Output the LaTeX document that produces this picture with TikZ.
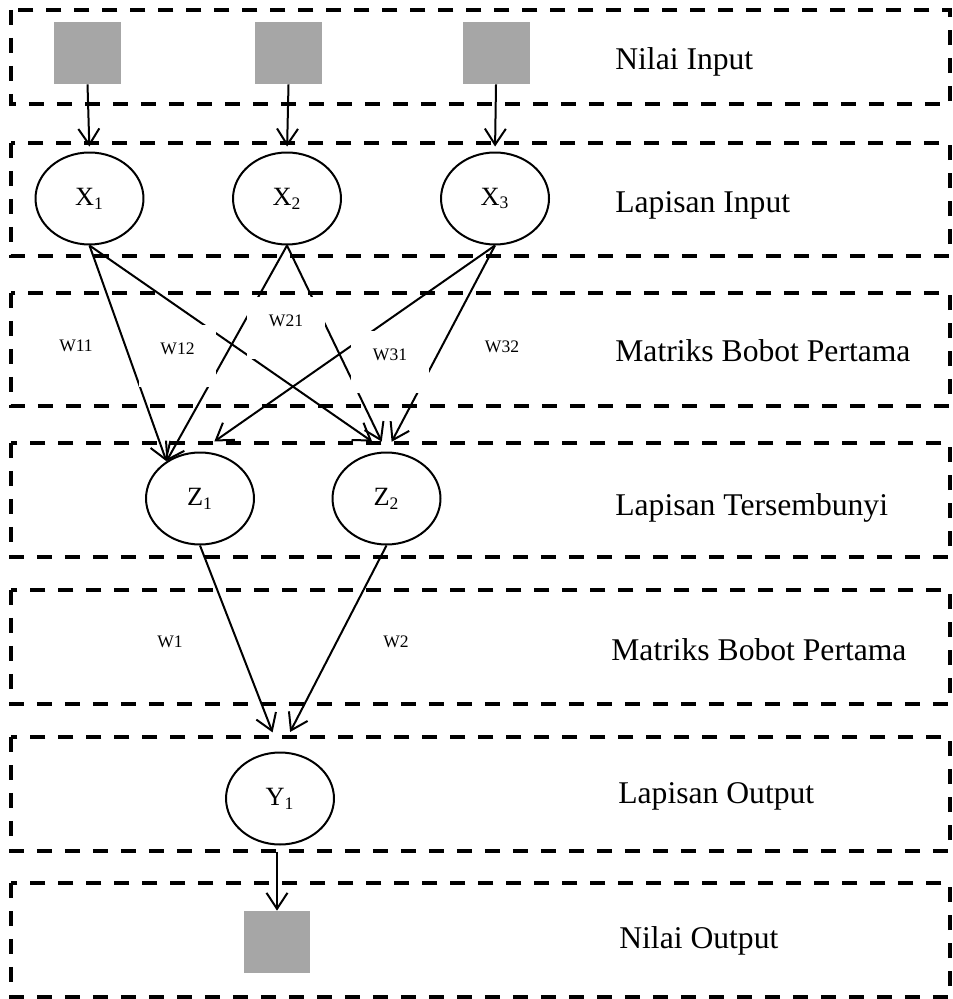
\documentclass[tikz,border=0pt]{standalone}
\usepackage{fontspec}
\setmainfont{Liberation Serif}
\usetikzlibrary{arrows.meta, shapes, positioning}

% smaller subscript for the neuron names
\newcommand{\lsub}[1]{\textsubscript{\fontsize{10pt}{10pt}\selectfont #1}}

\begin{document}
\begin{tikzpicture}[x=0.02cm, y=-0.02cm,
  % Define the style of the dashed frame around a layer
  layerbox/.style={draw, line width=0.08cm, dash pattern=on 0.3cm off 0.26cm},
  % Define the style of the grey value squares
  value/.style={fill=black!35, minimum width=1.34cm, minimum height=1.24cm, inner sep=0},
  % Define the style of the neurons
  neuron/.style={ellipse, draw, line width=0.04cm, minimum width=2.16cm, minimum height=1.84cm,
    inner sep=0, font=\fontsize{15pt}{16pt}\selectfont},
  % Define the style of the arrows between nodes
  arrow/.style={-{Straight Barb[length=0.32cm, width=0.42cm]}, line width=0.04cm},
  % Define the style of the weights (white boxes)
  weight/.style={fill=white, anchor=base, inner sep=0, minimum width=1.56cm,
    text height=0.6cm, text depth=0.64cm, font=\fontsize{10pt}{12pt}\selectfont},
  % Define the style of the layer names
  layerlabel/.style={anchor=base west, inner sep=0, font=\fontsize{18pt}{20pt}\selectfont}
  ]
  \useasboundingbox (0,0) rectangle (952,999);

  % Layer frames
  \foreach \top/\bot in {10/104, 143/256, 293/406, 443/557, 590/704, 737/851, 883/997} {
    \draw[layerbox] (11,\top) rectangle (950,\bot);
  }

  % Layer names
  \foreach \x/\y/\txt [count=\i] in {615/70/Nilai Input, 615/213/Lapisan Input,
      615/362/Matriks Bobot Pertama, 615/515/Lapisan Tersembunyi,
      611/660/Matriks Bobot Pertama, 618/803/Lapisan Output, 619/948/Nilai Output} {
    \node[layerlabel] (layer\i) at (\x,\y) {\txt};
  }

  % Input values and input layer
  \foreach \i/\x/\xx in {1/87.5/89.5, 2/288.5/287, 3/496/495} {
    \node[value] (in\i) at (\x,53) {};
    \node[neuron] (x\i) at (\xx,198.5) {X\lsub{\i}};
    \draw[arrow, shorten >=0.1cm] (in\i.south) -- (x\i.north);
  }

  % Hidden layer
  \node[neuron] (z1) at (200,498.5) {Z\lsub{1}};
  \node[neuron] (z2) at (386.5,498.5) {Z\lsub{2}};

  % Output neuron and output value
  \node[neuron] (y1) at (280,798.5) {Y\lsub{1}};
  \node[value] (out) at (277,942) {};

  % Connect input layer to hidden layer
  \draw[arrow] (x1.south) -- (z1.132);
  \draw[arrow] (x2.south) -- (z1.132);
  \draw[arrow, shorten >=0.35cm] (x3.south) -- (z1.north);
  \foreach \i/\s in {1/0.35, 2/0.22, 3/0.22} {
    \draw[arrow, shorten >=\s cm] (x\i.south) -- (z2.north);
  }

  % Connect hidden layer to output
  \draw[arrow, shorten >=0.41cm] (z1.south) -- (y1.north);
  \draw[arrow, shorten >=0.44cm] (z2.south) -- (y1.north);
  \draw[arrow, shorten <=0.14cm] (y1.south -| out.north) -- (out.north);

  % Weights
  \foreach \w/\x/\y in {11/76/352, 12/177.5/355, 21/286/327, 31/390/361, 32/502/353, 1/170/647, 2/396/647} {
    \node[weight] (w\w) at (\x,\y) {W\w};
  }
\end{tikzpicture}
\end{document}
